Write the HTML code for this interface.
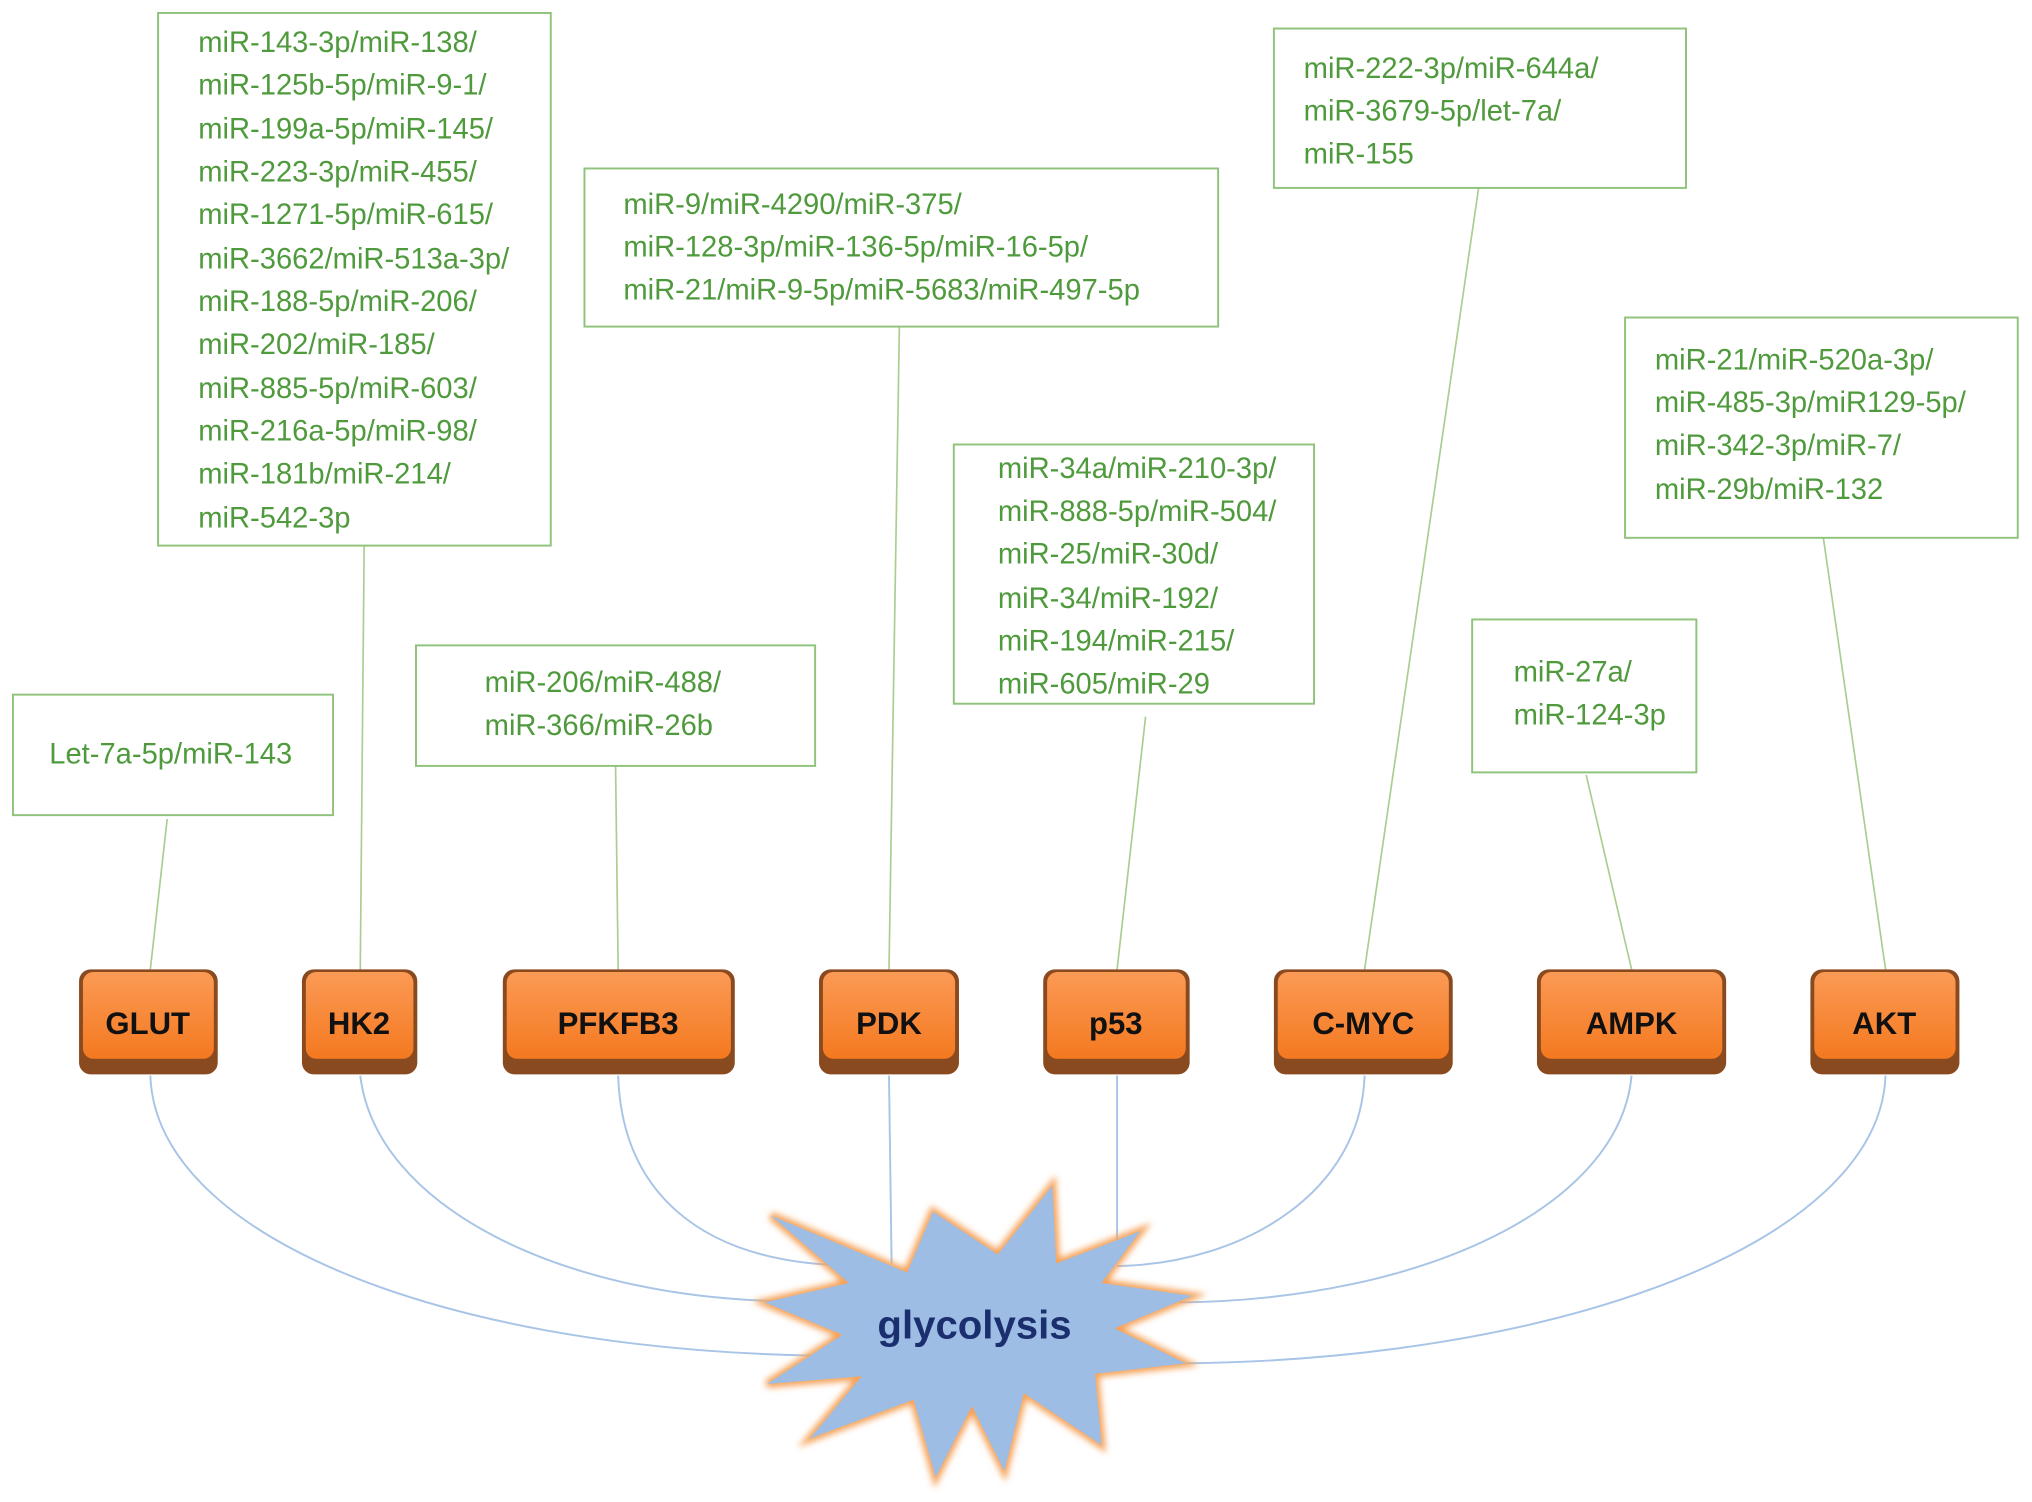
<!DOCTYPE html>
<html><head><meta charset="utf-8"><style>html,body{margin:0;padding:0;background:#fff}svg{display:block}</style></head>
<body>
<svg width="2032" height="1502" viewBox="0 0 1568 1159" xmlns="http://www.w3.org/2000/svg">
<defs>
<linearGradient id="og" x1="0" y1="0" x2="0" y2="1"><stop offset="0" stop-color="#fb9a55"/><stop offset="1" stop-color="#f47920"/></linearGradient>
<filter id="glow" x="-20%" y="-20%" width="140%" height="140%"><feGaussianBlur stdDeviation="2.5"/></filter>
</defs>
<g fill="none" stroke="#a9cf8f" stroke-width="1.3">
<path d="M129 632L116 748M281 421L278 748M475 591L477 748M694 252L686 748M884 553L862 748M1141 145L1053 748M1224 598L1259 748M1407 415L1455 748"/>
</g>
<g fill="none" stroke="#a8c4e6" stroke-width="1.5">
<path d="M116 830C120 950 330 1040 625 1046"/>
<path d="M278 830C290 930 430 1000 600 1004"/>
<path d="M477 830C480 920 540 970 640 976"/>
<path d="M686 830L688 975"/>
<path d="M862 830L862 960"/>
<path d="M1053 830C1050 920 960 975 862 977"/>
<path d="M1259 830C1250 930 1100 1003 910 1005"/>
<path d="M1455 830C1450 960 1200 1050 910 1052"/>
</g>
<g fill="#fff" stroke="#8fc27a" stroke-width="1.5">
<rect x="122" y="10" width="303" height="411"/>
<rect x="451" y="130" width="489" height="122"/>
<rect x="983" y="22" width="318" height="123"/>
<rect x="1254" y="245" width="303" height="170"/>
<rect x="736" y="343" width="278" height="200"/>
<rect x="1136" y="478" width="173" height="118"/>
<rect x="321" y="498" width="308" height="93"/>
<rect x="10" y="536" width="247" height="93"/>
</g>
<g font-family="Liberation Sans, sans-serif" font-size="22.5" fill="#4f9a3c">
<text x="153" y="40">miR-143-3p/miR-138/</text>
<text x="153" y="73">miR-125b-5p/miR-9-1/</text>
<text x="153" y="107">miR-199a-5p/miR-145/</text>
<text x="153" y="140">miR-223-3p/miR-455/</text>
<text x="153" y="173">miR-1271-5p/miR-615/</text>
<text x="153" y="207">miR-3662/miR-513a-3p/</text>
<text x="153" y="240">miR-188-5p/miR-206/</text>
<text x="153" y="273">miR-202/miR-185/</text>
<text x="153" y="307">miR-885-5p/miR-603/</text>
<text x="153" y="340">miR-216a-5p/miR-98/</text>
<text x="153" y="373">miR-181b/miR-214/</text>
<text x="153" y="407">miR-542-3p</text>
<text x="481" y="165">miR-9/miR-4290/miR-375/</text>
<text x="481" y="198">miR-128-3p/miR-136-5p/miR-16-5p/</text>
<text x="481" y="231">miR-21/miR-9-5p/miR-5683/miR-497-5p</text>
<text x="1006" y="60">miR-222-3p/miR-644a/</text>
<text x="1006" y="93">miR-3679-5p/let-7a/</text>
<text x="1006" y="126">miR-155</text>
<text x="1277" y="285">miR-21/miR-520a-3p/</text>
<text x="1277" y="318">miR-485-3p/miR129-5p/</text>
<text x="1277" y="351">miR-342-3p/miR-7/</text>
<text x="1277" y="385">miR-29b/miR-132</text>
<text x="770" y="369">miR-34a/miR-210-3p/</text>
<text x="770" y="402">miR-888-5p/miR-504/</text>
<text x="770" y="435">miR-25/miR-30d/</text>
<text x="770" y="469">miR-34/miR-192/</text>
<text x="770" y="502">miR-194/miR-215/</text>
<text x="770" y="535">miR-605/miR-29</text>
<text x="1168" y="526">miR-27a/</text>
<text x="1168" y="559">miR-124-3p</text>
<text x="374" y="534">miR-206/miR-488/</text>
<text x="374" y="567">miR-366/miR-26b</text>
<text x="38" y="589">Let-7a-5p/miR-143</text>
</g>
<g>
<rect x="61" y="748" width="107" height="81" rx="9" fill="#8a4a1f"/><rect x="64" y="750" width="101" height="67" rx="8" fill="url(#og)"/>
<rect x="233" y="748" width="89" height="81" rx="9" fill="#8a4a1f"/><rect x="236" y="750" width="83" height="67" rx="8" fill="url(#og)"/>
<rect x="388" y="748" width="179" height="81" rx="9" fill="#8a4a1f"/><rect x="391" y="750" width="173" height="67" rx="8" fill="url(#og)"/>
<rect x="632" y="748" width="108" height="81" rx="9" fill="#8a4a1f"/><rect x="635" y="750" width="102" height="67" rx="8" fill="url(#og)"/>
<rect x="805" y="748" width="113" height="81" rx="9" fill="#8a4a1f"/><rect x="808" y="750" width="107" height="67" rx="8" fill="url(#og)"/>
<rect x="983" y="748" width="138" height="81" rx="9" fill="#8a4a1f"/><rect x="986" y="750" width="132" height="67" rx="8" fill="url(#og)"/>
<rect x="1186" y="748" width="146" height="81" rx="9" fill="#8a4a1f"/><rect x="1189" y="750" width="140" height="67" rx="8" fill="url(#og)"/>
<rect x="1397" y="748" width="115" height="81" rx="9" fill="#8a4a1f"/><rect x="1400" y="750" width="109" height="67" rx="8" fill="url(#og)"/>
</g>
<g font-family="Liberation Sans, sans-serif" font-size="24" font-weight="bold" fill="#111" text-anchor="middle">
<text x="114" y="798">GLUT</text><text x="277" y="798">HK2</text><text x="477" y="798">PFKFB3</text>
<text x="686" y="798">PDK</text><text x="861" y="798">p53</text><text x="1052" y="798">C-MYC</text>
<text x="1259" y="798">AMPK</text><text x="1454" y="798">AKT</text>
</g>
<polygon filter="url(#glow)" fill="#f5a35a" stroke="#f5a35a" stroke-width="6" points="720,935 700,982 595,938 655,990 590,1005 650,1030 592,1068 665,1062 625,1110 705,1080 722,1140 750,1085 775,1135 790,1075 850,1115 845,1060 915,1052 860,1025 920,1000 850,990 880,950 815,975 812,915 770,968"/>
<polygon fill="#9ebde5" points="720,935 700,982 595,938 655,990 590,1005 650,1030 592,1068 665,1062 625,1110 705,1080 722,1140 750,1085 775,1135 790,1075 850,1115 845,1060 915,1052 860,1025 920,1000 850,990 880,950 815,975 812,915 770,968"/>
<text x="752" y="1033" font-family="Liberation Sans, sans-serif" font-size="31" font-weight="bold" fill="#1b2f6e" text-anchor="middle">glycolysis</text>
</svg>
</body></html>
